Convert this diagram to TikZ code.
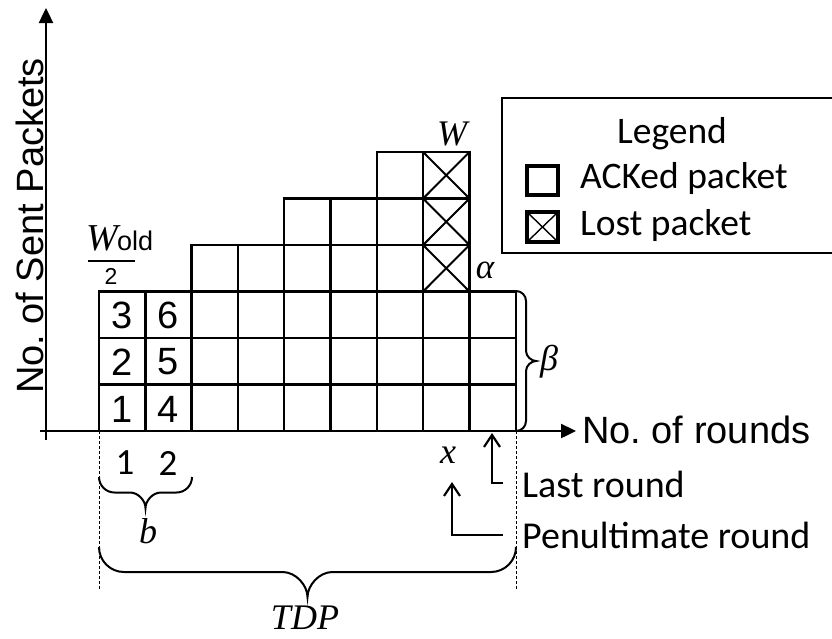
\documentclass[tikz,border=0pt]{standalone}
\usepackage{fontspec}
\setmainfont{Liberation Sans}
\newfontfamily\calib{Carlito}
\newfontfamily\tms{Liberation Serif}
\usetikzlibrary{arrows.meta,calc}
\frenchspacing

% horizontal curly brace, tip pointing down: x1, x2, top y, radius
\newcommand{\drawhbrace}[4]{%
  \pgfmathsetmacro{\xm}{(#1+#2)/2}%
  \draw[brace] (#1,#3)
    .. controls (#1,{#3+0.552*#4}) and ({#1+0.448*#4},{#3+#4}) .. ({#1+#4},{#3+#4})
    -- ({\xm-#4},{#3+#4})
    .. controls ({\xm-0.448*#4},{#3+#4}) and (\xm,{#3+1.552*#4}) .. (\xm,{#3+2*#4})
    .. controls (\xm,{#3+1.552*#4}) and ({\xm+0.448*#4},{#3+#4}) .. ({\xm+#4},{#3+#4})
    -- ({#2-#4},{#3+#4})
    .. controls ({#2-0.448*#4},{#3+#4}) and (#2,{#3+0.552*#4}) .. (#2,#3);}
% vertical curly brace, tip pointing right: y1, y2, left x, radius
\newcommand{\drawvbrace}[4]{%
  \pgfmathsetmacro{\ym}{(#1+#2)/2}%
  \draw[brace] (#3,#1)
    .. controls ({#3+0.552*#4},#1) and ({#3+#4},{#1+0.448*#4}) .. ({#3+#4},{#1+#4})
    -- ({#3+#4},{\ym-#4})
    .. controls ({#3+#4},{\ym-0.448*#4}) and ({#3+1.552*#4},\ym) .. ({#3+2*#4},\ym)
    .. controls ({#3+1.552*#4},\ym) and ({#3+#4},{\ym+0.448*#4}) .. ({#3+#4},{\ym+#4})
    -- ({#3+#4},{#2-#4})
    .. controls ({#3+#4},{#2-0.448*#4}) and ({#3+0.552*#4},#2) .. (#3,#2);}

\begin{document}
\begin{tikzpicture}[x=1pt,y=-1pt,
  cell/.style={draw,line width=2.4pt},
  axis/.style={line width=2.4pt,-{Triangle[length=15pt,width=14pt]}},
  ptr/.style={line width=2.2pt,-{Straight Barb[length=12pt,width=16pt]}},
  brace/.style={line width=2pt},
  dashline/.style={line width=0.9pt,dash pattern=on 3pt off 2pt},
  sanslbl/.style={inner sep=0pt,font=\fontsize{38}{40}\selectfont},
  digit/.style={inner sep=0pt,font=\fontsize{38}{40}\selectfont},
  callbl/.style={inner sep=0pt,font=\calib\fontsize{38}{40}\selectfont},
  leglbl/.style={inner sep=0pt,font=\calib\fontsize{37.5}{39}\selectfont},
  mathlbl/.style={inner sep=0pt,font=\tms\itshape\fontsize{36}{38}\selectfont},
  legbox/.style={draw,line width=3.2pt}]
\useasboundingbox (0,0) rectangle (832,638);

% packet grid: column heights, rows of 46.5, columns of 46.3
\def\cw{46.3}
\def\ch{46.5}
\foreach \h [count=\c from 0] in {3,3,4,4,5,5,6,6,3} {
  \foreach \r in {1,...,\h} {
    \draw[cell] ({99+\c*\cw},{431-(\r-1)*\ch}) rectangle ++(\cw,-\ch);
  }
}
% lost packets in the window-W round
\foreach \r in {3,4,5} {
  \draw[line width=2pt] ({99+7*\cw},{431-\r*\ch}) -- ++(\cw,-\ch);
  \draw[line width=2pt] ({99+8*\cw},{431-\r*\ch}) -- ++(-\cw,-\ch);
}

% packet numbers
\node[digit] (p1) at (122,409) {1};
\node[digit] (p2) at (122,362) {2};
\node[digit] (p3) at (122,315) {3};
\node[digit] (p4) at (168,409) {4};
\node[digit] (p5) at (168,362) {5};
\node[digit] (p6) at (168,315) {6};

% axes
\coordinate (yaxbot) at (46,440);
\coordinate (yaxtop) at (46,8);
\coordinate (xaxleft) at (40,431);
\coordinate (xaxright) at (576,431);
\draw[axis] (yaxbot) -- (yaxtop);
\draw[axis] (xaxleft) -- (xaxright);
\node[sanslbl,rotate=90,anchor=base] (ylbl) at (43,226) {No. of Sent Packets};
\node[sanslbl,anchor=base west] (xlbl) at (582,443) {No. of rounds};

% W_old / 2
\node[mathlbl,font=\tms\itshape\fontsize{38}{40}\selectfont,anchor=base west] (woldw) at (86,250) {W};
\node[inner sep=0pt,anchor=base west,font=\fontsize{27}{29}\selectfont] (wolds) at (117,250) {old};
\draw[line width=1.5pt] (88,261) -- (135,261);
\node[inner sep=0pt,anchor=base,font=\fontsize{23}{25}\selectfont] (woldtwo) at (111,284) {2};

% window labels
\node[mathlbl] (wlbl) at (452,134) {W};
\node[mathlbl,font=\tms\itshape\fontsize{35}{37}\selectfont] (alpha) at (485,270) {α};
\node[mathlbl] (beta) at (549,362) {β};
\drawvbrace{291}{431}{516}{10}

% legend
\draw[line width=2pt] (502,98) rectangle (845,253);
\node[leglbl,anchor=base] (leg) at (672,143) {Legend};
\draw[legbox] (527,166) rectangle (558,195);
\node[leglbl,anchor=base west] (legack) at (580,188) {ACKed packet};
\draw[legbox] (527,212) rectangle (558,242);
\draw[line width=1.4pt] (527,212) -- (558,242) (558,212) -- (527,242);
\node[leglbl,anchor=base west] (leglost) at (580,235) {Lost packet};

% round numbers and braces below the axis
\node[callbl,font=\calib\fontsize{37}{39}\selectfont] (r1) at (125,463) {1};
\node[callbl,font=\calib\fontsize{37}{39}\selectfont] (r2) at (168,463) {2};
\drawhbrace{99}{192}{477}{15.5}
\node[mathlbl] (blbl) at (148,531) {b};
\draw[dashline] (99,431) -- (99,590);
\draw[dashline] (516,431) -- (516,590);
\drawhbrace{99}{516}{547}{25}
\node[mathlbl] (tdp) at (305,618) {TDP};
\node[mathlbl] (xlbl2) at (448,455) {x};

% round pointers
\node[callbl,anchor=base west] (lastlbl) at (522,497) {Last round};
\node[callbl,anchor=base west] (penlbl) at (522,548) {Penultimate round};
\coordinate (lasttip) at (492,433);
\coordinate (pentip) at (452,482);
\draw[ptr] ($(lastlbl.base west)+(-19,-14)$) -| (lasttip);
\draw[ptr] ($(penlbl.base west)+(-19,-13)$) -| (pentip);
\end{tikzpicture}
\end{document}
